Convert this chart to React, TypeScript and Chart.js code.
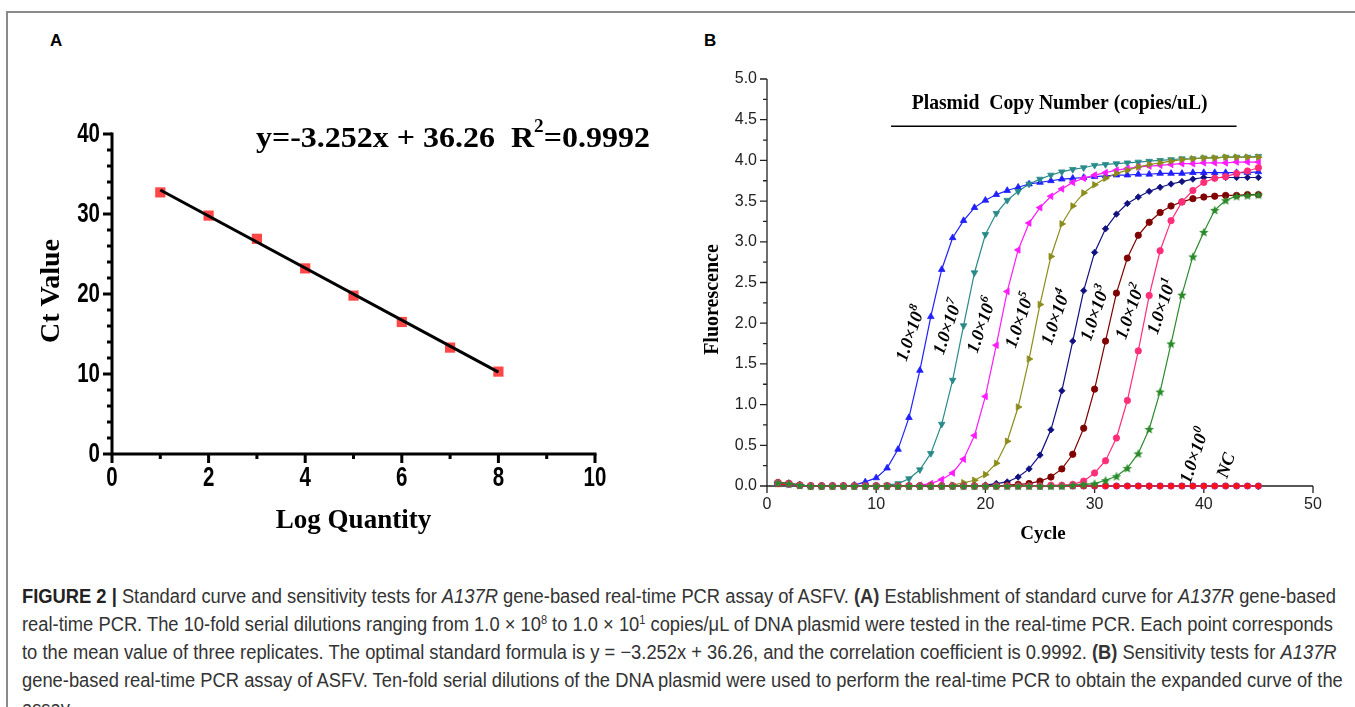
import React, { useEffect, useLayoutEffect, useRef } from 'react';
import { Chart, registerables } from 'chart.js';
Chart.register(...registerables);

const SERIF = "'Liberation Serif','Times New Roman',Times,serif";
const SANS = "'Liberation Sans',Arial,Helvetica,sans-serif";

// ---------- Panel A data ----------
const LOG_QUANTITY = [1, 2, 3, 4, 5, 6, 7, 8];
const CT_VALUE = [32.7, 29.8, 26.9, 23.2, 19.8, 16.5, 13.3, 10.3];
const FIT_X = [1, 8];
const FIT_Y = [33.0, 10.24];
const EQUATION_MAIN = 'y=-3.252x + 36.26  R';
const EQUATION_SUP = '2';
const EQUATION_TAIL = '=0.9992';
const A_X_TITLE = 'Log Quantity';
const A_Y_TITLE = 'Ct Value';

// ---------- Panel B data ----------
const CYCLE = [1, 2, 3, 4, 5, 6, 7, 8, 9, 10, 11, 12, 13, 14, 15, 16, 17, 18, 19, 20, 21, 22, 23, 24, 25, 26, 27, 28, 29, 30, 31, 32, 33, 34, 35, 36, 37, 38, 39, 40, 41, 42, 43, 44, 45];
const F_1E8 = [0.04, 0.03, 0.01, 0.00, 0.00, 0.00, 0.00, 0.01, 0.05, 0.10, 0.22, 0.45, 0.84, 1.42, 2.08, 2.66, 3.05, 3.26, 3.42, 3.51, 3.58, 3.63, 3.67, 3.71, 3.73, 3.75, 3.77, 3.78, 3.79, 3.80, 3.81, 3.82, 3.82, 3.83, 3.83, 3.84, 3.84, 3.84, 3.85, 3.85, 3.85, 3.85, 3.85, 3.85, 3.86];
const F_1E7 = [0.04, 0.03, 0.01, 0.00, 0.00, 0.00, 0.00, 0.00, 0.00, 0.00, 0.01, 0.03, 0.09, 0.20, 0.40, 0.76, 1.30, 1.97, 2.62, 3.09, 3.35, 3.51, 3.62, 3.71, 3.77, 3.82, 3.86, 3.89, 3.91, 3.94, 3.95, 3.96, 3.97, 3.98, 3.99, 4.00, 4.01, 4.02, 4.02, 4.03, 4.03, 4.04, 4.04, 4.04, 4.05];
const F_1E6 = [0.04, 0.03, 0.01, 0.00, 0.00, 0.00, 0.00, 0.00, 0.00, 0.00, 0.00, 0.00, 0.00, 0.01, 0.03, 0.08, 0.16, 0.33, 0.62, 1.10, 1.73, 2.39, 2.90, 3.23, 3.42, 3.56, 3.65, 3.73, 3.78, 3.82, 3.85, 3.88, 3.90, 3.92, 3.93, 3.94, 3.95, 3.96, 3.96, 3.97, 3.97, 3.97, 3.98, 3.98, 3.98];
const F_1E5 = [0.04, 0.03, 0.01, 0.00, 0.00, 0.00, 0.00, 0.00, 0.00, 0.00, 0.00, 0.00, 0.00, 0.00, 0.00, 0.00, 0.01, 0.04, 0.07, 0.14, 0.28, 0.55, 0.97, 1.56, 2.23, 2.82, 3.22, 3.44, 3.60, 3.70, 3.78, 3.84, 3.88, 3.92, 3.95, 3.97, 3.99, 4.01, 4.02, 4.03, 4.03, 4.04, 4.04, 4.04, 4.04];
const F_1E4 = [0.04, 0.03, 0.01, 0.00, 0.00, 0.00, 0.00, 0.00, 0.00, 0.00, 0.00, 0.00, 0.00, 0.00, 0.00, 0.00, 0.00, 0.00, 0.00, 0.01, 0.03, 0.05, 0.11, 0.21, 0.38, 0.69, 1.17, 1.78, 2.40, 2.87, 3.16, 3.34, 3.47, 3.55, 3.62, 3.67, 3.71, 3.74, 3.77, 3.79, 3.79, 3.79, 3.79, 3.79, 3.79];
const F_1E3 = [0.04, 0.03, 0.01, 0.00, 0.00, 0.00, 0.00, 0.00, 0.00, 0.00, 0.00, 0.00, 0.00, 0.00, 0.00, 0.00, 0.00, 0.00, 0.00, 0.00, 0.00, 0.01, 0.02, 0.03, 0.06, 0.11, 0.21, 0.39, 0.71, 1.19, 1.78, 2.37, 2.80, 3.08, 3.24, 3.36, 3.44, 3.49, 3.53, 3.55, 3.56, 3.57, 3.57, 3.58, 3.58];
const F_1E2 = [0.04, 0.03, 0.01, 0.00, 0.00, 0.00, 0.00, 0.00, 0.00, 0.00, 0.00, 0.00, 0.00, 0.00, 0.00, 0.00, 0.00, 0.00, 0.00, 0.00, 0.00, 0.00, 0.00, 0.00, 0.00, 0.01, 0.01, 0.02, 0.06, 0.16, 0.31, 0.59, 1.05, 1.66, 2.34, 2.89, 3.26, 3.49, 3.63, 3.73, 3.78, 3.80, 3.84, 3.87, 3.91];
const F_1E1 = [0.04, 0.03, 0.01, 0.00, 0.00, 0.00, 0.00, 0.00, 0.00, 0.00, 0.00, 0.00, 0.00, 0.00, 0.00, 0.00, 0.00, 0.00, 0.00, 0.00, 0.00, 0.00, 0.00, 0.00, 0.00, 0.00, 0.00, 0.01, 0.02, 0.03, 0.07, 0.12, 0.22, 0.40, 0.70, 1.16, 1.75, 2.35, 2.82, 3.12, 3.39, 3.51, 3.56, 3.57, 3.58];
const F_1E0 = [0.03, 0.02, 0.01, 0.00, 0.00, 0.00, 0.00, 0.00, 0.00, 0.00, 0.00, 0.00, 0.00, 0.00, 0.00, 0.00, 0.00, 0.00, 0.00, 0.00, 0.00, 0.00, 0.00, 0.00, 0.00, 0.00, 0.00, 0.00, 0.00, 0.00, 0.00, 0.00, 0.00, 0.00, 0.00, 0.00, 0.00, 0.00, 0.00, 0.00, 0.00, 0.00, 0.00, 0.00, 0.00];
const F_NC = [0.02, 0.02, 0.01, 0.00, 0.00, 0.00, 0.00, 0.00, 0.00, 0.00, 0.00, 0.00, 0.00, 0.00, 0.00, 0.00, 0.00, 0.00, 0.00, 0.00, 0.00, 0.00, 0.00, 0.00, 0.00, 0.00, 0.00, 0.00, 0.00, 0.00, 0.00, 0.00, 0.00, 0.00, 0.00, 0.00, 0.00, 0.00, 0.00, 0.00, 0.00, 0.00, 0.00, 0.00, 0.00];

const SERIES_VALUES = [F_1E8, F_1E7, F_1E6, F_1E5, F_1E4, F_1E3, F_1E2, F_1E1, F_1E0, F_NC];
const SERIES_NAMES = ['1.0×10^8', '1.0×10^7', '1.0×10^6', '1.0×10^5', '1.0×10^4', '1.0×10^3', '1.0×10^2', '1.0×10^1', '1.0×10^0', 'NC'];
const SERIES_COLORS = ['#1f1fff', '#2a8a8a', '#ff1aff', '#8c8c1a', '#101080', '#800000', '#ff2d7a', '#2a8a2a', '#9933cc', '#ff1010'];
const SERIES_MARKERS = ['triangle', 'triangleDown', 'triangleLeft', 'triangleRight', 'rectRot', 'circle', 'circle', 'star', 'circle', 'rect'];
// drawing weight: higher drawn first (underneath)
const SERIES_ORDER = [10, 9, 8, 7, 6, 5, 4, 3, 12, 11];
// label anchor (cycle, fluorescence)
const LABEL_CYCLE = [13.2, 16.6, 19.7, 23.2, 26.5, 30.1, 33.3, 36.2, 39.2, 42.1];
const LABEL_FLUOR = [1.87, 1.95, 1.97, 2.03, 2.07, 2.12, 2.14, 2.2, 0.37, 0.25];
const B_HEADER = 'Plasmid  Copy Number (copies/uL)';
const B_X_TITLE = 'Cycle';
const B_Y_TITLE = 'Fluorescence';

const supStyle: React.CSSProperties = { fontSize: '0.6em', verticalAlign: 'baseline', position: 'relative', top: '-0.6em', lineHeight: 0 };
const CAPTION_LINES: React.ReactNode[] = [
  <><b style={{ color: '#222' }}>FIGURE 2 |</b> Standard curve and sensitivity tests for <i>A137R</i> gene-based real-time PCR assay of ASFV. <b>(A)</b> Establishment of standard curve for <i>A137R</i> gene-based</>,
  <>real-time PCR. The 10-fold serial dilutions ranging from 1.0 × 10<sup style={supStyle}>8</sup> to 1.0 × 10<sup style={supStyle}>1</sup> copies/μL of DNA plasmid were tested in the real-time PCR. Each point corresponds</>,
  <>to the mean value of three replicates. The optimal standard formula is y = −3.252x + 36.26, and the correlation coefficient is 0.9992. <b>(B)</b> Sensitivity tests for <i>A137R</i></>,
  <>gene-based real-time PCR assay of ASFV. Ten-fold serial dilutions of the DNA plasmid were used to perform the real-time PCR to obtain the expanded curve of the</>,
  <>assay.</>,
];

function makeStar(color: string, size: number) {
  const c = document.createElement('canvas');
  c.width = size; c.height = size;
  const g = c.getContext('2d')!;
  g.fillStyle = color;
  g.beginPath();
  for (let i = 0; i < 10; i++) {
    const r = i % 2 === 0 ? size / 2 : size / 4.6;
    const a = -Math.PI / 2 + (i * Math.PI) / 5;
    g.lineTo(size / 2 + r * Math.cos(a), size / 2 + 0.5 + r * Math.sin(a));
  }
  g.closePath();
  g.fill();
  return c;
}

const A_TICK_FONT = `bold 27px ${SANS}`;
const A_TICK_SQUEEZE = 0.76;

const panelAPlugin = {
  id: 'panelA',
  beforeDatasetsDraw(chart: any) {
    const { ctx, scales: { x, y } } = chart;
    const x0 = x.getPixelForValue(x.min), x1 = x.getPixelForValue(x.max);
    const y0 = y.getPixelForValue(y.min), y1 = y.getPixelForValue(y.max);
    ctx.save();
    ctx.strokeStyle = '#000';
    ctx.lineWidth = 3;
    ctx.lineCap = 'square';
    ctx.beginPath();
    ctx.moveTo(x0, y1); ctx.lineTo(x0, y0); ctx.lineTo(x1, y0);
    ctx.stroke();
    ctx.lineCap = 'butt';
    ctx.beginPath();
    for (let v = x.min; v <= x.max; v += 1) {
      const px = x.getPixelForValue(v);
      const len = v % 2 === 0 ? 9 : 5;
      ctx.moveTo(px, y0); ctx.lineTo(px, y0 + len);
    }
    for (let v = y.min; v <= y.max; v += 2) {
      const py = y.getPixelForValue(v);
      const len = v % 10 === 0 ? 9 : 5;
      ctx.moveTo(x0, py); ctx.lineTo(x0 - len, py);
    }
    ctx.stroke();
    // tick labels (condensed bold, from the scale's own ticks)
    ctx.fillStyle = '#000';
    ctx.font = A_TICK_FONT;
    ctx.textBaseline = 'middle';
    ctx.textAlign = 'center';
    x.ticks.forEach((t: any) => {
      const px = x.getPixelForValue(t.value);
      ctx.save();
      ctx.translate(px, y0 + 25);
      ctx.scale(A_TICK_SQUEEZE, 1);
      ctx.fillText(String(t.value), 0, 0);
      ctx.restore();
    });
    ctx.textAlign = 'right';
    y.ticks.forEach((t: any) => {
      const py = y.getPixelForValue(t.value);
      ctx.save();
      ctx.translate(x0 - 12, py + 1);
      ctx.scale(A_TICK_SQUEEZE, 1);
      ctx.fillText(String(t.value), 0, 0);
      ctx.restore();
    });
    ctx.restore();
  },
  afterDraw(chart: any) {
    const { ctx, scales: { x, y }, chartArea } = chart;
    ctx.save();
    ctx.fillStyle = '#000';
    ctx.textAlign = 'center';
    ctx.textBaseline = 'middle';
    ctx.font = `bold 27px ${SERIF}`;
    ctx.fillText(A_X_TITLE, (chartArea.left + chartArea.right) / 2, chartArea.bottom + 67);
    ctx.save();
    ctx.translate(chartArea.left - 60, (chartArea.top + chartArea.bottom) / 2 - 3);
    ctx.rotate(-Math.PI / 2);
    ctx.font = `bold 28px ${SERIF}`;
    ctx.fillText(A_Y_TITLE, 0, 0);
    ctx.restore();
    // equation
    const ex = x.getPixelForValue(2.98);
    const ey = y.getPixelForValue(39.4);
    ctx.textAlign = 'left';
    ctx.font = `bold 30px ${SERIF}`;
    const w1 = ctx.measureText(EQUATION_MAIN).width;
    ctx.font = `bold 18px ${SERIF}`;
    const w2 = ctx.measureText(EQUATION_SUP).width;
    ctx.font = `bold 30px ${SERIF}`;
    const w3 = ctx.measureText(EQUATION_TAIL).width;
    const k = 394 / (w1 + w2 + w3);
    ctx.save();
    ctx.translate(ex, ey);
    ctx.scale(k, 1);
    ctx.fillText(EQUATION_MAIN, 0, 0);
    ctx.font = `bold 18px ${SERIF}`;
    ctx.fillText(EQUATION_SUP, w1, -11);
    ctx.font = `bold 30px ${SERIF}`;
    ctx.fillText(EQUATION_TAIL, w1 + w2, 0);
    ctx.restore();
    ctx.restore();
  },
};

const panelBPlugin = {
  id: 'panelB',
  beforeDatasetsDraw(chart: any) {
    const { ctx, scales: { x, y } } = chart;
    const x0 = x.getPixelForValue(x.min), x1 = x.getPixelForValue(x.max);
    const y0 = y.getPixelForValue(y.min), y1 = y.getPixelForValue(y.max);
    ctx.save();
    ctx.strokeStyle = '#222';
    ctx.lineWidth = 1.3;
    ctx.beginPath();
    ctx.moveTo(x0, y1); ctx.lineTo(x0, y0); ctx.lineTo(x1, y0);
    ctx.stroke();
    ctx.beginPath();
    for (let v = x.min; v <= x.max; v += 5) {
      const px = x.getPixelForValue(v);
      const len = v % 10 === 0 ? 7 : 4;
      ctx.moveTo(px, y0); ctx.lineTo(px, y0 + len);
    }
    for (let i = 0; i <= 20; i++) {
      const v = i * 0.25;
      const py = y.getPixelForValue(v);
      const len = i % 2 === 0 ? 7 : 4;
      ctx.moveTo(x0, py); ctx.lineTo(x0 - len, py);
    }
    ctx.stroke();
    // header + line
    const hy = y.getPixelForValue(4.42);
    ctx.lineWidth = 1.5;
    ctx.strokeStyle = '#000';
    ctx.beginPath();
    ctx.moveTo(x.getPixelForValue(11.36), hy);
    ctx.lineTo(x.getPixelForValue(43.0), hy);
    ctx.stroke();
    ctx.fillStyle = '#000';
    ctx.textAlign = 'center';
    ctx.textBaseline = 'middle';
    ctx.font = `bold 21px ${SERIF}`;
    const hw = ctx.measureText(B_HEADER).width;
    ctx.save();
    ctx.translate(x.getPixelForValue(26.8), y.getPixelForValue(4.7));
    ctx.scale(296 / hw, 1);
    ctx.fillText(B_HEADER, 0, 0);
    ctx.restore();
    ctx.restore();
  },
  afterDraw(chart: any) {
    const { ctx, scales: { x, y }, chartArea } = chart;
    ctx.save();
    ctx.fillStyle = '#000';
    ctx.textAlign = 'center';
    ctx.textBaseline = 'middle';
    ctx.font = `bold 19px ${SERIF}`;
    ctx.fillText(B_X_TITLE, (chartArea.left + chartArea.right) / 2 + 3, chartArea.bottom + 48);
    ctx.save();
    ctx.translate(chartArea.left - 54, (chartArea.top + chartArea.bottom) / 2 + 17);
    ctx.rotate(-Math.PI / 2);
    ctx.font = `bold 20px ${SERIF}`;
    ctx.fillText(B_Y_TITLE, 0, 0);
    ctx.restore();
    // curve labels
    const ang = (-71 * Math.PI) / 180;
    SERIES_NAMES.forEach((name, i) => {
      const px = x.getPixelForValue(LABEL_CYCLE[i]);
      const py = y.getPixelForValue(LABEL_FLUOR[i]);
      const parts = name.split('^');
      const mainFont = `italic bold 18px ${SERIF}`;
      const supFont = `italic bold 12px ${SERIF}`;
      ctx.font = mainFont;
      const mw = ctx.measureText(parts[0]).width;
      let sw = 0;
      if (parts[1]) { ctx.font = supFont; sw = ctx.measureText(parts[1]).width; }
      const total = mw + sw;
      ctx.save();
      ctx.translate(px, py);
      ctx.rotate(ang);
      ctx.textAlign = 'left';
      ctx.font = mainFont;
      ctx.fillText(parts[0], -total / 2, 0);
      if (parts[1]) {
        ctx.font = supFont;
        ctx.fillText(parts[1], -total / 2 + mw + 0.5, -6);
      }
      ctx.restore();
    });
    ctx.restore();
  },
};

export default function App() {
  const aRef = useRef<HTMLCanvasElement>(null);
  const bRef = useRef<HTMLCanvasElement>(null);
  const capRef = useRef<HTMLDivElement>(null);
  const line2Ref = useRef<HTMLDivElement>(null);

  useLayoutEffect(() => {
    if (capRef.current && line2Ref.current) {
      const w = line2Ref.current.getBoundingClientRect().width;
      if (w > 0) capRef.current.style.transform = `scaleX(${1311 / w})`;
    }
  }, []);

  useEffect(() => {
    const chartA = new Chart(aRef.current!, {
      type: 'scatter',
      data: {
        datasets: [
          {
            data: FIT_X.map((xv, i) => ({ x: xv, y: FIT_Y[i] })),
            showLine: true,
            borderColor: '#000',
            borderWidth: 3,
            pointRadius: 0,
            order: 0,
            clip: false,
          } as any,
          {
            data: LOG_QUANTITY.map((xv, i) => ({ x: xv, y: CT_VALUE[i] })),
            pointStyle: 'rect',
            pointRadius: 7.2,
            backgroundColor: 'rgba(255,30,30,0.82)',
            borderColor: 'rgba(255,30,30,0.82)',
            borderWidth: 0,
            order: 1,
            clip: false,
          } as any,
        ],
      },
      options: {
        responsive: false,
        animation: false,
        events: [],
        layout: { padding: { left: 0, top: 134, right: 95, bottom: 26 } },
        plugins: { legend: { display: false }, tooltip: { enabled: false } },
        scales: {
          x: {
            type: 'linear', min: 0, max: 10,
            ticks: { stepSize: 2, display: false },
            grid: { display: false, drawTicks: false },
            border: { display: false },
            afterFit: (s: any) => { s.height = 60; },
          },
          y: {
            type: 'linear', min: 0, max: 40,
            ticks: { stepSize: 10, display: false },
            grid: { display: false, drawTicks: false },
            border: { display: false },
            afterFit: (s: any) => { s.width = 112; },
          },
        },
      } as any,
      plugins: [panelAPlugin],
    });

    const markers = SERIES_MARKERS.map((m, i) => {
      if (m === 'star') return { style: makeStar(SERIES_COLORS[i], 10), rot: 0 };
      if (m === 'triangleDown') return { style: 'triangle', rot: 180 };
      if (m === 'triangleLeft') return { style: 'triangle', rot: -90 };
      if (m === 'triangleRight') return { style: 'triangle', rot: 90 };
      return { style: m, rot: 0 };
    });
    const tickFontB = { family: SANS, size: 16 };
    const chartB = new Chart(bRef.current!, {
      type: 'scatter',
      data: {
        datasets: SERIES_VALUES.map((vals, i) => ({
          label: SERIES_NAMES[i],
          data: CYCLE.map((c, j) => ({ x: c, y: vals[j] })),
          showLine: true,
          borderColor: SERIES_COLORS[i],
          backgroundColor: SERIES_COLORS[i],
          borderWidth: 1.2,
          pointStyle: markers[i].style,
          rotation: markers[i].rot,
          pointRadius: SERIES_MARKERS[i].startsWith('tri') ? 3.8 : 3.2,
          pointBorderWidth: 0.8,
          order: SERIES_ORDER[i],
          clip: false,
        })) as any,
      },
      options: {
        responsive: false,
        animation: false,
        events: [],
        layout: { padding: { left: 0, top: 39, right: 42, bottom: 24 } },
        plugins: { legend: { display: false }, tooltip: { enabled: false } },
        scales: {
          x: {
            type: 'linear', min: 0, max: 50,
            ticks: { stepSize: 10, padding: 9, color: '#222', font: tickFontB },
            grid: { display: false, drawTicks: false },
            border: { display: false },
            afterFit: (s: any) => { s.height = 40; },
          },
          y: {
            type: 'linear', min: 0, max: 5,
            ticks: { stepSize: 0.5, padding: 10, color: '#222', font: tickFontB, callback: (v: any) => Number(v).toFixed(1) },
            grid: { display: false, drawTicks: false },
            border: { display: false },
            afterFit: (s: any) => { s.width = 77; },
          },
        },
      } as any,
      plugins: [panelBPlugin],
    });
    return () => { chartA.destroy(); chartB.destroy(); };
  }, []);

  return (
    <div style={{ position: 'absolute', left: 0, top: 0, width: 1355, height: 707, overflow: 'hidden', background: '#fff' }}>
      <div style={{ position: 'absolute', left: 6, top: 11, width: 1400, height: 800, borderLeft: '2px solid #8a8a8a', borderTop: '2px solid #8a8a8a' }} />
      <div style={{ position: 'absolute', left: 50, top: 31, font: `bold 17px ${SANS}`, color: '#000' }}>A</div>
      <div style={{ position: 'absolute', left: 704, top: 31, font: `bold 17px ${SANS}`, color: '#000' }}>B</div>
      <canvas ref={aRef} width={690} height={540} style={{ position: 'absolute', left: 0, top: 0, width: 690, height: 540 }} />
      <canvas ref={bRef} width={665} height={510} style={{ position: 'absolute', left: 690, top: 40, width: 665, height: 510 }} />
      <div ref={capRef} style={{ position: 'absolute', left: 22, top: 582, transformOrigin: 'left top', fontFamily: SANS, fontSize: 20, color: '#333', lineHeight: '28px' }}>
        {CAPTION_LINES.map((ln, i) => (
          <div key={i} ref={i === 1 ? line2Ref : undefined} style={{ whiteSpace: 'nowrap', width: 'max-content', height: 28, lineHeight: '28px' }}>{ln}</div>
        ))}
      </div>
    </div>
  );
}
